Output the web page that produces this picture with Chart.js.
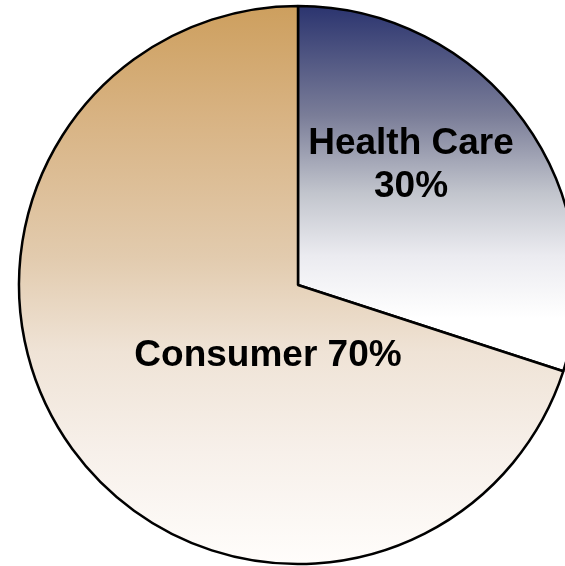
<!DOCTYPE html>
<html>
<head>
<meta charset="utf-8">
<script src="https://cdn.jsdelivr.net/npm/chart.js@4/dist/chart.umd.min.js"></script>
<style>
  html, body { margin: 0; padding: 0; background: #fff; overflow: hidden; }
  #wrap { position: absolute; left: 0; top: 0; width: 596px; height: 570px; }
</style>
</head>
<body>
<div id="wrap"><canvas id="pie"></canvas></div>
<script>
const sectors = ["Health Care", "Consumer"];
const shares = [30, 70];
const labelLines = [["Health Care", "30%"], ["Consumer 70%"]];

// stop warna gradient atas -> bawah untuk tiap irisan
const gradStops = [
  [[0, "#2b346f"], [0.35, "#7a7d98"], [0.6, "#c2c5cd"], [0.8, "#ebebf0"], [1, "#ffffff"]],
  [[0, "#cd9f5e"], [0.2, "#d8b383"], [0.45, "#e2cbae"], [0.62, "#efe3d6"], [0.8, "#f7f0ea"], [1, "#fffdfb"]]
];

function isiGradien(context) {
  const chart = context.chart;
  const i = context.dataIndex;
  const area = chart.chartArea;
  if (!area) return gradStops[i][0][1];
  const cy = (area.top + area.bottom) / 2;
  const r = chart.getDatasetMeta(0).controller.outerRadius || 279;
  // health care sudah putih sebelum ujung garis batas
  const y2 = (i === 0) ? cy + r * 0.12 : cy + r;
  const g = chart.ctx.createLinearGradient(0, cy - r, 0, y2);
  gradStops[i].forEach(s => g.addColorStop(s[0], s[1]));
  return g;
}

const labelPlugin = {
  id: "labelSlice",
  afterDatasetsDraw(chart) {
    const ctx = chart.ctx;
    const arcs = chart.getDatasetMeta(0).data;
    const cx = arcs[0].x, cy = arcs[0].y;
    // posisi teks relatif ke pusat lingkaran
    const pos = [[113, -131], [-30, 81]];
    ctx.save();
    ctx.fillStyle = "#000";
    ctx.font = "bold 37px 'Liberation Sans', Arial, sans-serif";
    ctx.textAlign = "center";
    ctx.textBaseline = "alphabetic";
    labelLines.forEach((lines, i) => {
      lines.forEach((t, j) => {
        ctx.fillText(t, cx + pos[i][0], cy + pos[i][1] + j * 43);
      });
    });
    ctx.restore();
  }
};

new Chart(document.getElementById("pie"), {
  type: "pie",
  data: {
    labels: sectors,
    datasets: [{
      data: shares,
      backgroundColor: isiGradien,
      borderColor: "#000",
      borderWidth: 2.5,
      borderAlign: "center"
    }]
  },
  options: {
    responsive: true,
    maintainAspectRatio: false,
    animation: false,
    radius: 279,
    layout: { padding: 0 },
    plugins: {
      legend: { display: false },
      tooltip: { enabled: false }
    }
  },
  plugins: [labelPlugin]
});
</script>
</body>
</html>
